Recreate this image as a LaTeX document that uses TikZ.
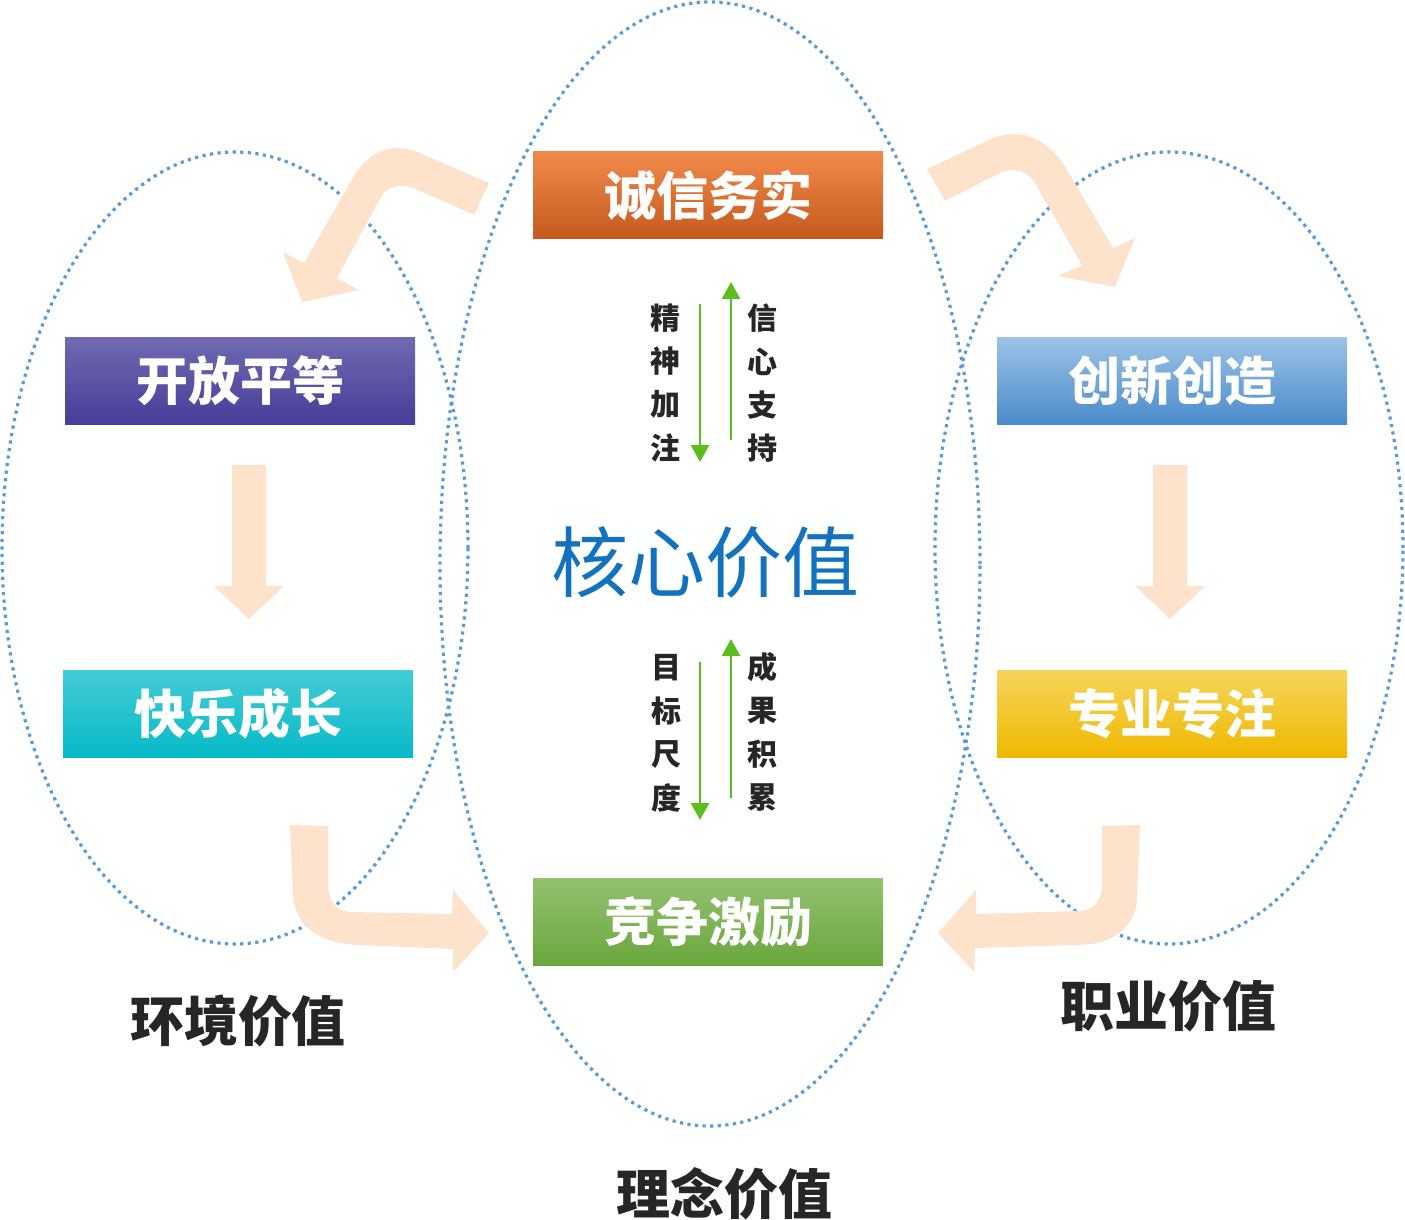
\documentclass[tikz,border=0pt]{standalone}
\usepackage{fontspec}
\setmainfont{Noto Sans CJK SC}
\usepackage{xcolor}
\usetikzlibrary{arrows.meta}
\definecolor{dotblue}{HTML}{5B9BD5}
\definecolor{peach}{HTML}{FDE2CC}
\definecolor{arrgreen}{HTML}{5BBE1E}
\definecolor{corecol}{HTML}{1272BF}
\definecolor{txtcol}{HTML}{262626}
\definecolor{orgtop}{HTML}{F08A4B}
\definecolor{orgbot}{HTML}{C55A1E}
\definecolor{purtop}{HTML}{7069B2}
\definecolor{purbot}{HTML}{463E98}
\definecolor{blutop}{HTML}{9DC3E6}
\definecolor{blubot}{HTML}{4A8BCB}
\definecolor{cyatop}{HTML}{43CCD5}
\definecolor{cyabot}{HTML}{07B9C8}
\definecolor{yeltop}{HTML}{F5D55C}
\definecolor{yelbot}{HTML}{EFB800}
\definecolor{gretop}{HTML}{93C16F}
\definecolor{grebot}{HTML}{6AA73E}

\begin{document}
\begin{tikzpicture}[x=0.5pt,y=-0.5pt,
	dotline/.style={dotblue,line width=1.6pt,dash pattern=on 1.6pt off 2.2pt},
	box/.style={minimum width=175pt,minimum height=43.5pt,inner sep=0pt,text=white,font=\fontsize{26}{30}\selectfont\bfseries},
	core/.style={text=corecol,font=\fontsize{38.5}{44}\selectfont},
	small/.style={text=txtcol,inner sep=0pt,font=\fontsize{15}{18}\selectfont\bfseries},
	biglab/.style={text=txtcol,font=\fontsize{27}{32}\selectfont\bfseries},
	garrow/.style={arrgreen,line width=1.4pt,-{Triangle[width=9pt,length=8.5pt]}}]
			\useasboundingbox (0,0) rectangle (1405,1220);
			% Vẽ elip
			\draw [dotline] (235,548) ellipse [x radius=116.5pt,y radius=198pt];
			\draw [dotline] (710,564) ellipse [x radius=135pt,y radius=281pt];
			\draw [dotline] (1169,548) ellipse [x radius=117pt,y radius=198pt];
			% Vẽ mũi tên
			\fill [peach] (489,183) -- (420,153) .. controls (392,141) and (367,152) .. (353,178) -- (304,263) -- (283,252) -- (302,302) -- (359,290) -- (337,278) -- (381,197) .. controls (389,184) and (404,183) .. (418,190) -- (474,215) -- cycle;
			\fill [peach] (927,169) -- (993,138) .. controls (1025,126) and (1052,143) .. (1067,170) -- (1113,248) -- (1135,238) -- (1115,287) -- (1058,276) -- (1082,265) -- (1035,183) .. controls (1028,172) and (1015,166) .. (1000,173) -- (945,201) -- cycle;
			\fill [peach] (290,825) -- (328,826) -- (328,883) .. controls (328,903) and (338,912) .. (352,912) -- (452,914) -- (453,890) -- (489,933) -- (453,972) -- (453,949) -- (360,945) .. controls (325,944) and (295,930) .. (293,895) -- cycle;
			\fill [peach] (1140,825) -- (1102,826) -- (1102,883) .. controls (1102,903) and (1092,911) .. (1077,911) -- (976,914) -- (976,890) -- (938,933) -- (974,972) -- (975,948) -- (1080,945) .. controls (1115,944) and (1137,925) .. (1137,897) -- cycle;
			\foreach \x in {249,1170}
			\fill [peach] (\x-17,465) -- (\x+17,465) -- (\x+17,586) -- (\x+35,586) -- (\x,619) -- (\x-35,586) -- (\x-17,586) -- cycle;
			% Vẽ hộp
			\node [box,top color=orgtop,bottom color=orgbot] (chengxin) at (708,195.5) {诚信务实};
			\node [box,top color=purtop,bottom color=purbot] (kaifang) at (240,380.5) {开放平等};
			\node [box,top color=blutop,bottom color=blubot] (chuangxin) at (1172,380.5) {创新创造};
			\node [box,top color=cyatop,bottom color=cyabot] (kuaile) at (238,714) {快乐成长};
			\node [box,top color=yeltop,bottom color=yelbot] (zhuanye) at (1172,714) {专业专注};
			\node [box,top color=gretop,bottom color=grebot] (jingzheng) at (708,922) {竞争激励};
			\node [core] (hexin) at (705,562) {核心价值};
			% Chữ dọc
			\foreach \c [count =\i from 0] in {精,神,加,注}
			\node [small] (jingshen\i) at (665,318+43.4*\i) {\c};
			\foreach \c [count =\i from 0] in {信,心,支,持}
			\node [small] (xinxin\i) at (762,318+43.4*\i) {\c};
			\foreach \c [count =\i from 0] in {目,标,尺,度}
			\node [small] (mubiao\i) at (666,668+43.4*\i) {\c};
			\foreach \c [count =\i from 0] in {成,果,积,累}
			\node [small] (chengguo\i) at (762,667+43.4*\i) {\c};
			\coordinate (d1a) at (700,304); \coordinate (d1b) at (700,462);
			\coordinate (u1a) at (731,440); \coordinate (u1b) at (731,282);
			\coordinate (d2a) at (700,662); \coordinate (d2b) at (700,820);
			\coordinate (u2a) at (731,798); \coordinate (u2b) at (731,639);
			\draw [garrow] (d1a) -- (d1b);
			\draw [garrow] (u1a) -- (u1b);
			\draw [garrow] (d2a) -- (d2b);
			\draw [garrow] (u2a) -- (u2b);
			% Nhãn
			\node [biglab] (huanjing) at (238,1021) {环境价值};
			\node [biglab] (zhiye) at (1168,1006) {职业价值};
			\node [biglab] (linian) at (724,1194) {理念价值};
		\end{tikzpicture}
\end{document}
